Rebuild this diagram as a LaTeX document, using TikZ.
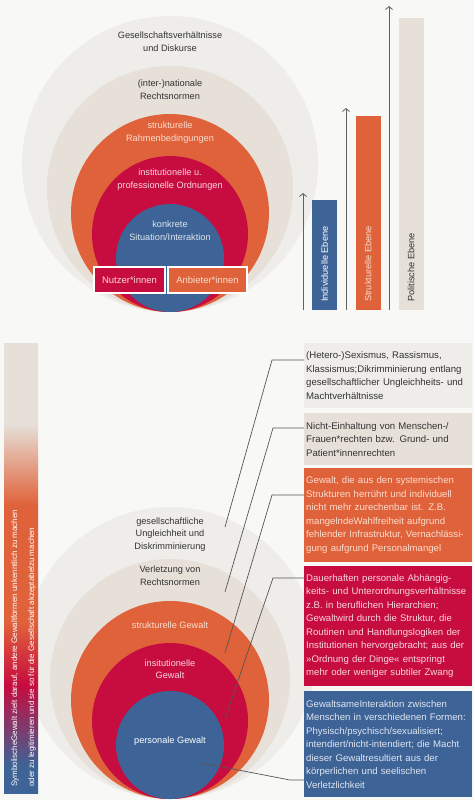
\documentclass[tikz,border=0pt]{standalone}
\usepackage{fontspec}
\setmainfont{Liberation Sans}
\usetikzlibrary{positioning, arrows.meta}
\definecolor{bgwhite}{HTML}{F8F8F6}
\definecolor{ringgrey}{HTML}{EEEDE9}
\definecolor{ringbeige}{HTML}{E6E0D8}
\definecolor{ringorange}{HTML}{E0623A}
\definecolor{ringred}{HTML}{C70C3F}
\definecolor{ringblue}{HTML}{3E6396}
\definecolor{darktext}{HTML}{333333}
\definecolor{linegrey}{HTML}{555555}
\definecolor{textpeach}{HTML}{FADDCF}
\definecolor{textpink}{HTML}{F8D6DF}
\definecolor{textblue}{HTML}{DDE6F1}
\pgfdeclareverticalshading{symbolic}{100bp}{color(0bp)=(ringblue); color(25bp)=(ringblue); color(28bp)=(ringblue); color(37bp)=(ringred); color(44bp)=(ringorange); color(57bp)=(ringorange); color(66bp)=(ringbeige); color(75bp)=(ringbeige); color(100bp)=(ringbeige)}

\begin{document}
\begin{tikzpicture}[x=1pt,y=-1pt,
    lbl/.style={align=center,text=darktext,font=\fontsize{9.2}{13}\selectfont},
    lowlbl/.style={lbl,font=\fontsize{9.2}{12.5}\selectfont},
    rolebox/.style={draw=white,line width=1.2pt,minimum height=26pt,text=textpink,font=\fontsize{9.5}{11}\selectfont},
    levelbar/.style={anchor=south,minimum width=25pt,inner sep=0pt},
    barlabel/.style={rotate=90,anchor=west,inner sep=0pt,font=\fontsize{9.2}{11}\selectfont},
    level/.style={-{Straight Barb[length=3pt,width=7pt]},gray!75!black,line width=0.8pt},
    infobox/.style={anchor=north west,minimum width=168pt,text width=164pt,inner xsep=2pt,align=left,font=\fontsize{9.6}{13.5}\selectfont},
    leader/.style={linegrey,line width=0.7pt}]
  \useasboundingbox[fill=bgwhite] (0,0) rectangle (474,800);

  \fill[ringgrey] (170,164) circle[radius=148pt];
  \fill[ringbeige] (170,189) circle[radius=123pt];
  \fill[ringorange] (170,213) circle[radius=99pt];
  \fill[ringred] (170,234) circle[radius=78pt];
  \fill[ringblue] (170,258) circle[radius=54pt];
  \node[lbl] (society) at (170,41.5) {Gesellschaftsverhältnisse\\und Diskurse};
  \node[lbl] (lawnorms) at (170,89.5) {(inter-)nationale\\Rechtsnormen};
  \node[lbl,text=textpeach] (framework) at (170,133) {strukturelle\\Rahmenbedingungen};
  \node[lbl,text=textpink] (orders) at (170,180) {institutionelle u.\\professionelle Ordnungen};
  \node[lbl,text=textblue] (situation) at (170,231) {konkrete\\Situation/Interaktion};
  \node[rolebox,fill=ringred,minimum width=71pt] (users) at (129.5,280) {Nutzer*innen};
  \node[rolebox,fill=ringorange,minimum width=79pt,text=textpeach] (providers) at (207.5,280) {Anbieter*innen};

  \node[levelbar,fill=ringblue,minimum height=110pt] (indiv) at (324.5,310) {};
  \node[levelbar,fill=ringorange,minimum height=194pt] (struct) at (368,310) {};
  \node[levelbar,fill=ringbeige,minimum height=292pt] (polit) at (411,310) {};
  \node[barlabel,text=white] (indivlabel) at (324.5,302) {Individuelle Ebene};
  \node[barlabel,text=textpeach] (structlabel) at (368,302) {Strukturelle Ebene};
  \node[barlabel,text=darktext] (politlabel) at (411,302) {Politische Ebene};
  \coordinate (a1) at (303,310); \coordinate (a1top) at (303,193);
  \coordinate (a2) at (346,310); \coordinate (a2top) at (346,108);
  \coordinate (a3) at (389,310); \coordinate (a3top) at (389,6);
  \draw[level] (a1) -- (a1top);
  \draw[level] (a2) -- (a2top);
  \draw[level] (a3) -- (a3top);

  \fill[ringgrey] (170,653) circle[radius=146pt];
  \fill[ringbeige] (170,679) circle[radius=120pt];
  \fill[ringorange] (170,700) circle[radius=99pt];
  \fill[ringred] (170,721) circle[radius=78pt];
  \fill[ringblue] (170,745) circle[radius=54pt];
  \node[lowlbl] (inequality) at (170,534.5) {gesellschaftliche\\Ungleichheit und\\Diskrimminierung};
  \node[lowlbl] (violation) at (170,575.5) {Verletzung von\\Rechtsnormen};
  \node[lowlbl,text=textpeach] (structviol) at (170,625) {strukturelle Gewalt};
  \node[lowlbl,text=textpink] (instviol) at (170,669) {insitutionelle\\Gewalt};
  \node[lowlbl,text=white] (persviol) at (170,741) {personale Gewalt};

  \shade[shading=symbolic] (4,343) rectangle (38,793);
  \node[rotate=90,anchor=west,align=left,text=white,inner sep=0pt,font=\fontsize{8}{17}\selectfont] (symbolic) at (23.5,787)
    {SymbolischeGewalt zielt darauf, andere Gewaltformen unkenntlich zu machen\\oder zu legitimieren und sie so für die Gesellschaft akzeptabelzu machen};

  \node[infobox,fill=ringgrey,minimum height=65pt,text=darktext] (box1) at (304,343)
    {(Hetero-)Sexismus, Rassismus,\\Klassismus;Dikrimminierung entlang\\gesellschaftlicher Ungleichheits- und\\Machtverhältnisse};
  \node[infobox,fill=ringbeige,minimum height=52pt,text=darktext] (box2) at (304,413)
    {Nicht-Einhaltung von Menschen-/\\Frauen*rechten bzw. Grund- und\\Patient*innenrechten};
  \node[infobox,fill=ringorange,minimum height=94pt,text=textpeach] (box3) at (304,468)
    {Gewalt, die aus den systemischen\\Strukturen herrührt und individuell\\nicht mehr zurechenbar ist. Z.B.\\mangelndeWahlfreiheit aufgrund\\fehlender Infrastruktur, Vernachlässi-\\gung aufgrund Personalmangel};
  \node[infobox,fill=ringred,minimum height=120pt,text=textpink] (box4) at (304,566)
    {Dauerhaften personale Abhängig-\\keits- und Unterordnungsverhältnisse\\z.B. in beruflichen Hierarchien;\\Gewaltwird durch die Struktur, die\\Routinen und Handlungslogiken der\\Institutionen hervorgebracht; aus der\\»Ordnung der Dinge« entspringt\\mehr oder weniger subtiler Zwang};
  \node[infobox,fill=ringblue,minimum height=106pt,text=textblue] (box5) at (304,691)
    {GewaltsameInteraktion zwischen\\Menschen in verschiedenen Formen:\\Physisch/psychisch/sexualisiert;\\intendiert/nicht-intendiert; die Macht\\dieser Gewaltresultiert aus der\\körperlichen und seelischen\\Verletzlichkeit};

  \coordinate (k1) at (272,360); \coordinate (e1) at (225,527);
  \coordinate (k2) at (273,428); \coordinate (e2) at (225,592);
  \coordinate (k3) at (272,495); \coordinate (e3) at (225,653);
  \coordinate (k4) at (273,578); \coordinate (e4) at (225,719);
  \coordinate (k5) at (290,780); \coordinate (e5) at (202,763);
  \draw[leader] (box1.west |- k1) -- (k1) -- (e1);
  \draw[leader] (box2.west |- k2) -- (k2) -- (e2);
  \draw[leader] (box3.west |- k3) -- (k3) -- (e3);
  \draw[leader] (box4.west |- k4) -- (k4) -- (e4);
  \draw[leader] (box5.west |- k5) -- (k5) -- (e5);
\end{tikzpicture}
\end{document}
